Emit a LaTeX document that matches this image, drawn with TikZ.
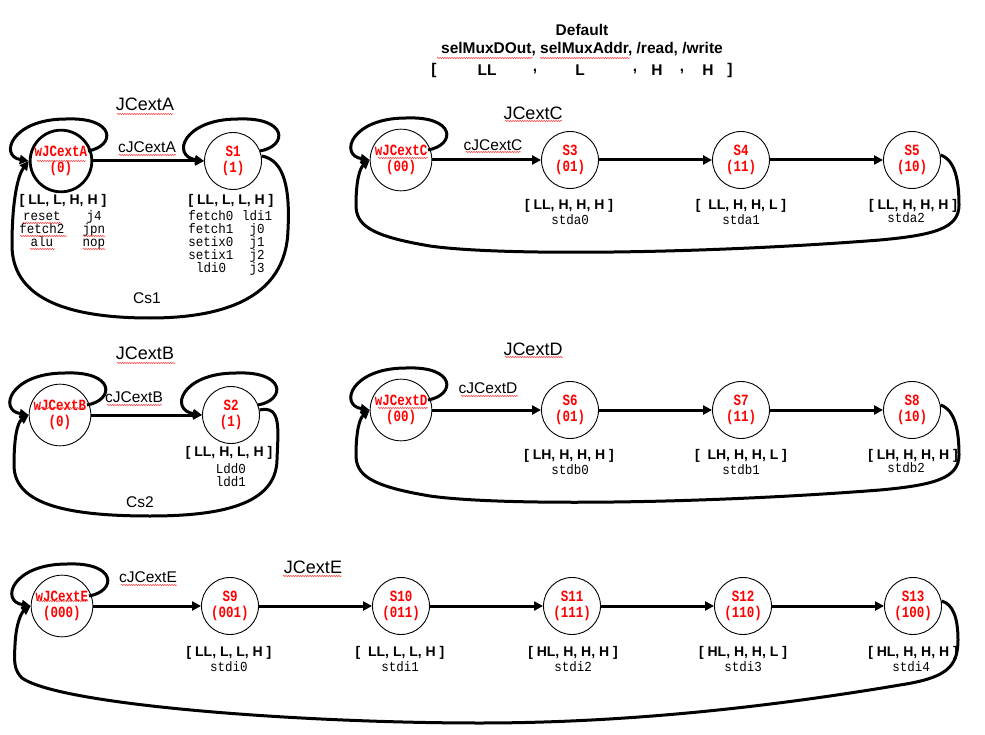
\documentclass[tikz,border=0pt]{standalone}
\usepackage{fontspec}
\setmainfont{Liberation Sans}
\newfontfamily\monof{Liberation Mono}
\usetikzlibrary{arrows.meta,calc,decorations.pathmorphing}
\newcommand\stn[2]{\scalebox{1}[1.25]{\begin{tabular}{@{}c@{}}#1\\#2\end{tabular}}}
\newcommand\lst[1]{\scalebox{1}[1.1]{\begin{tabular}{@{}c@{}}#1\end{tabular}}}
\newcommand\sm[1]{\smash{#1}}
\newcommand\myloop[1]{\draw[conn] ($(#1.center)+(27,-10)$) .. controls ($(#1.center)+(55,-15)$) and ($(#1.center)+(55,-44)$) .. ($(#1.center)+(5,-42)$) .. controls ($(#1.center)+(-50,-42)$) and ($(#1.center)+(-62,-5)$) .. (#1.west);}
\tikzset{
  state/.style={circle,draw,line width=0.9pt,minimum size=57pt,inner sep=0pt,text=red,font=\monof\bfseries\fontsize{12.5}{13}\selectfont},
  conn/.style={line width=3pt,-{Triangle[length=9pt,width=9pt]}},
  bigloop/.style={line width=3pt,-{Triangle[length=9pt,width=9pt]}},
  title/.style={font=\fontsize{18}{20}\selectfont,inner sep=0pt},
  cond/.style={font=\fontsize{15.5}{17}\selectfont,inner sep=0pt},
  outv/.style={font=\bfseries\fontsize{14}{16}\selectfont,inner sep=0pt},
  hdr/.style={font=\bfseries\fontsize{15.5}{18}\selectfont,inner sep=0pt},
  lstn/.style={font=\monof\fontsize{12.5}{11.8}\selectfont,inner sep=0pt},
  squig/.style={draw=red!75,line width=0.5pt,decorate,decoration={snake,amplitude=0.7pt,segment length=2.4pt}}
}
\begin{document}
\begin{tikzpicture}[x=1pt,y=-1pt]
\fill[white] (0,0) rectangle (985,735);
\useasboundingbox (0,0) rectangle (985,735);

% header
\node[hdr] (hd1) at (582,30) {Default};
\node[hdr] (hd2) at (582,49) {selMuxDOut, selMuxAddr, /read, /write};
\node[hdr] (hb1) at (434,70) {[};
\node[hdr] (hb2) at (487,70) {LL};
\node[hdr] (hb3) at (535,72) {,};
\node[hdr] (hb4) at (580,70) {L};
\node[hdr] (hb5) at (635,72) {,};
\node[hdr] (hb6) at (657,70) {H};
\node[hdr] (hb7) at (682,72) {,};
\node[hdr] (hb8) at (708,70) {H};
\node[hdr] (hb9) at (730,70) {]};
\draw[squig] (437,58) -- (533,58);
\draw[squig] (540,58) -- (630,58);

% ===== A =====
\node[state,line width=2.8pt] (wA) at (61,161) {\stn{wJCextA}{(0)}};
\node[state] (S1) at (233,161) {\stn{S1}{(1)}};
\node[title] (tA) at (145,104) {JCextA};
\node[cond] (cA) at (147,147) {cJCextA};
\node[outv] (oA) at (63,201) {[ LL, L, H, H ]};
\node[lstn] (lA1) at (42,231) {\lst{\sm{reset}\\\sm{fetch2}\\\sm{alu}}};
\node[lstn] (lA2) at (94,231) {\lst{\sm{j4}\\\sm{jpn}\\\sm{nop}}};
\node[outv] (o1) at (231,201) {[ LL, L, L, H ]};
\node[lstn] (l11) at (211,244) {\lst{\sm{fetch0}\\\sm{fetch1}\\\sm{setix0}\\\sm{setix1}\\\sm{ldi0}}};
\node[lstn] (l12) at (257,244) {\lst{\sm{ldi1}\\\sm{j0}\\\sm{j1}\\\sm{j2}\\\sm{j3}}};
\node[cond] (cs1) at (147,298) {Cs1};
\draw[conn] (wA) -- (S1);
\myloop{wA}
\myloop{S1}
\draw[bigloop] (S1.10) .. controls (285,160) and (290,190) .. (288,230) .. controls (286,300) and (220,318) .. (150,318) .. controls (60,318) and (12,295) .. (12,245) .. controls (12,200) and (18,175) .. (wA.west);
\draw[squig] (117,114) -- (173,114);
\draw[squig] (119,155) -- (176,155);
\draw[squig] (37,161) -- (86,161);
\draw[squig] (23,223) -- (62,223);
\draw[squig] (20,236) -- (67,236);
\draw[squig] (30,249) -- (55,249);
\draw[squig] (83,236) -- (105,236);
\draw[squig] (83,249) -- (105,249);

% ===== B =====
\node[state] (wB) at (60,415) {\stn{wJCextB}{(0)}};
\node[state] (S2) at (231,415) {\stn{S2}{(1)}};
\node[title] (tB) at (145,353) {JCextB};
\node[cond] (cB) at (134,397) {cJCextB};
\node[outv] (o2) at (229,453) {[ LL, H, L, H ]};
\node[lstn] (l2) at (231,477) {\lst{\sm{Ldd0}\\\sm{ldd1}}};
\node[cond] (cs2) at (140,502) {Cs2};
\draw[conn] (wB) -- (S2);
\myloop{wB}
\myloop{S2}
\draw[bigloop] (S2.10) .. controls (282,405) and (278,430) .. (277,460) .. controls (276,505) and (220,516) .. (150,516) .. controls (60,516) and (14,502) .. (14,465) .. controls (14,435) and (18,422) .. (wB.west);
\draw[squig] (117,363) -- (175,363);
\draw[squig] (107,405) -- (162,405);
\draw[squig] (36,408) -- (84,408);

% ===== C =====
\node[state] (wC) at (401,160) {\stn{wJCextC}{(00)}};
\node[state] (S3) at (570,160) {\stn{S3}{(01)}};
\node[state] (S4) at (741,160) {\stn{S4}{(11)}};
\node[state] (S5) at (912,160) {\stn{S5}{(10)}};
\node[title] (tC) at (533,113) {JCextC};
\node[cond] (cC) at (493,145) {cJCextC};
\node[outv] (o3) at (569,206) {[ LL, H, H, H ]};
\node[lstn] (l3) at (570,221) {\lst{stda0}};
\node[outv] (o4) at (741,206) {[\ \ LL, H, H, L ]};
\node[lstn] (l4) at (741,221) {\lst{stda1}};
\node[outv] (o5) at (913,206) {[ LL, H, H, H ]};
\node[lstn] (l5) at (906,219) {\lst{stda2}};
\draw[conn] (wC) -- (S3);
\draw[conn] (S3) -- (S4);
\draw[conn] (S4) -- (S5);
\myloop{wC}
\draw[bigloop] (S5.10) .. controls (955,160) and (959,180) .. (959,205) .. controls (959,228) and (935,235) .. (880,240) .. controls (700,254) and (500,256) .. (430,246) .. controls (370,236) and (356,225) .. (356,205) .. controls (356,180) and (360,168) .. (wC.west);
\draw[squig] (505,121) -- (562,121);
\draw[squig] (466,152) -- (521,152);
\draw[squig] (378,158) -- (428,158);

% ===== D =====
\node[state] (wD) at (401,410) {\stn{wJCextD}{(00)}};
\node[state] (S6) at (570,410) {\stn{S6}{(01)}};
\node[state] (S7) at (741,410) {\stn{S7}{(11)}};
\node[state] (S8) at (912,410) {\stn{S8}{(10)}};
\node[title] (tD) at (533,349) {JCextD};
\node[cond] (cD) at (488,388) {cJCextD};
\node[outv] (o6) at (569,456) {[ LH, H, H, H ]};
\node[lstn] (l6) at (570,471) {\lst{stdb0}};
\node[outv] (o7) at (741,456) {[\ \ LH, H, H, L ]};
\node[lstn] (l7) at (741,471) {\lst{stdb1}};
\node[outv] (o8) at (913,456) {[ LH, H, H, H ]};
\node[lstn] (l8) at (906,469) {\lst{stdb2}};
\draw[conn] (wD) -- (S6);
\draw[conn] (S6) -- (S7);
\draw[conn] (S7) -- (S8);
\myloop{wD}
\draw[bigloop] (S8.10) .. controls (955,410) and (959,430) .. (959,455) .. controls (959,478) and (935,485) .. (880,490) .. controls (700,504) and (500,506) .. (430,496) .. controls (370,486) and (356,475) .. (356,455) .. controls (356,430) and (360,418) .. (wD.west);
\draw[squig] (505,357) -- (563,357);
\draw[squig] (461,396) -- (518,396);
\draw[squig] (378,408) -- (428,408);

% ===== E =====
\node[state] (wE) at (62,606) {\stn{wJCextE}{(000)}};
\node[state] (S9) at (230,606) {\stn{S9}{(001)}};
\node[state] (S10) at (401,606) {\stn{S10}{(011)}};
\node[state] (S11) at (572,606) {\stn{S11}{(111)}};
\node[state] (S12) at (743,606) {\stn{S12}{(110)}};
\node[state] (S13) at (913,606) {\stn{S13}{(100)}};
\node[cond] (cE) at (148,577) {cJCextE};
\node[title] (tE) at (313,567) {JCextE};
\node[outv] (o9) at (229,653) {[ LL, L, L, H ]};
\node[lstn] (l9) at (229,668) {\lst{stdi0}};
\node[outv] (o10) at (400,653) {[\ \ LL, L, L, H ]};
\node[lstn] (l10) at (400,668) {\lst{stdi1}};
\node[outv] (o11) at (573,653) {[ HL, H, H, H ]};
\node[lstn] (l11b) at (573,668) {\lst{stdi2}};
\node[outv] (o12) at (743,653) {[ HL, H, H, L ]};
\node[lstn] (l12b) at (743,668) {\lst{stdi3}};
\node[outv] (o13) at (913,653) {[ HL, H, H, H ]};
\node[lstn] (l13) at (911,668) {\lst{stdi4}};
\draw[conn] (wE) -- (S9);
\draw[conn] (S9) -- (S10);
\draw[conn] (S10) -- (S11);
\draw[conn] (S11) -- (S12);
\draw[conn] (S12) -- (S13);
\myloop{wE}
\draw[bigloop] (S13.10) .. controls (953,604) and (958,618) .. (958,640) .. controls (958,668) and (945,678) .. (900,685) .. controls (740,712) and (600,723) .. (480,723) .. controls (300,723) and (60,705) .. (22,678) .. controls (14,670) and (14,662) .. (15,645) .. controls (16,622) and (22,612) .. (wE.west);
\draw[squig] (121,585) -- (177,585);
\draw[squig] (283,576) -- (342,576);
\draw[squig] (38,601) -- (88,601);
\end{tikzpicture}
\end{document}
